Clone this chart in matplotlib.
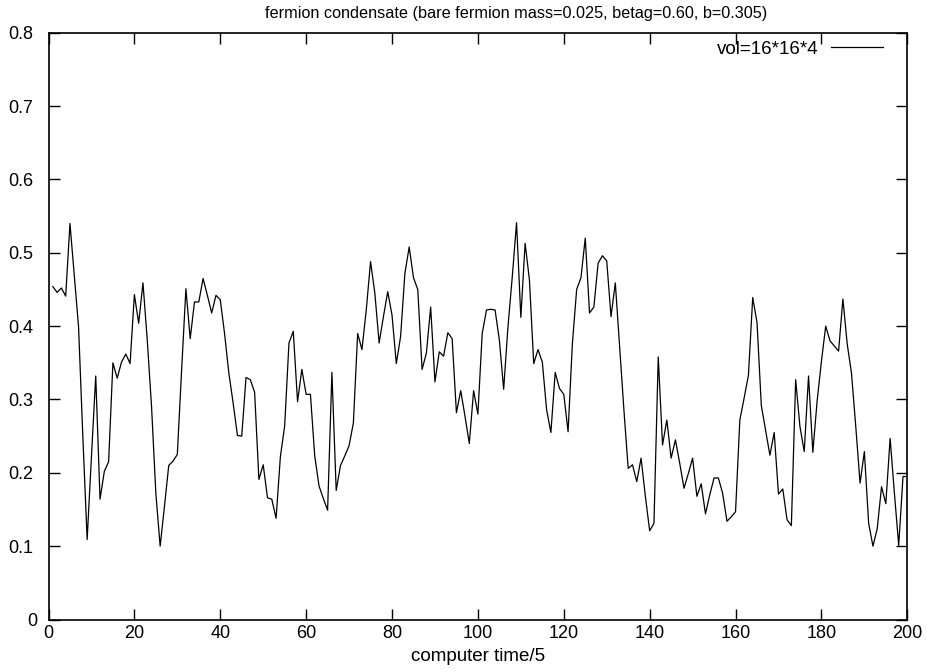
import matplotlib
matplotlib.use("Agg")
import matplotlib.pyplot as plt
import matplotlib.transforms as mtransforms

plt.rcParams['font.family'] = ['Liberation Sans', 'DejaVu Sans']

title = "fermion condensate (bare fermion mass=0.025, betag=0.60, b=0.305)"
xlabel = "computer time/5"
legend_label = "vol=16*16*4"
x_ticks = [0, 20, 40, 60, 80, 100, 120, 140, 160, 180, 200]
y_ticks = [0, 0.1, 0.2, 0.3, 0.4, 0.5, 0.6, 0.7, 0.8]
y_tick_labels = ["0", "0.1", "0.2", "0.3", "0.4", "0.5", "0.6", "0.7", "0.8"]

condensate = [
    0.454, 0.446, 0.452, 0.441, 0.540, 0.470, 0.399, 0.249, 0.109, 0.222,
    0.332, 0.164, 0.202, 0.215, 0.350, 0.329, 0.351, 0.362, 0.349, 0.443,
    0.404, 0.459, 0.381, 0.290, 0.172, 0.100, 0.154, 0.210, 0.216, 0.225,
    0.340, 0.451, 0.383, 0.433, 0.433, 0.465, 0.442, 0.418, 0.442, 0.436,
    0.390, 0.336, 0.295, 0.251, 0.250, 0.330, 0.327, 0.310, 0.191, 0.211,
    0.166, 0.164, 0.138, 0.222, 0.264, 0.377, 0.393, 0.297, 0.341, 0.307,
    0.307, 0.223, 0.182, 0.165, 0.149, 0.337, 0.176, 0.210, 0.223, 0.237,
    0.268, 0.390, 0.368, 0.422, 0.488, 0.445, 0.377, 0.413, 0.447, 0.415,
    0.349, 0.386, 0.472, 0.508, 0.466, 0.450, 0.341, 0.363, 0.426, 0.324,
    0.365, 0.359, 0.391, 0.383, 0.282, 0.312, 0.277, 0.240, 0.312, 0.280,
    0.390, 0.422, 0.423, 0.422, 0.381, 0.314, 0.399, 0.467, 0.541, 0.412,
    0.513, 0.463, 0.349, 0.368, 0.351, 0.286, 0.255, 0.337, 0.315, 0.307,
    0.256, 0.376, 0.450, 0.466, 0.520, 0.418, 0.426, 0.486, 0.496, 0.489,
    0.413, 0.459, 0.372, 0.286, 0.206, 0.211, 0.188, 0.220, 0.168, 0.121,
    0.131, 0.358, 0.238, 0.272, 0.220, 0.245, 0.213, 0.179, 0.199, 0.220,
    0.168, 0.185, 0.144, 0.170, 0.193, 0.193, 0.172, 0.134, 0.140, 0.147,
    0.272, 0.302, 0.333, 0.439, 0.405, 0.292, 0.258, 0.224, 0.255, 0.171,
    0.178, 0.136, 0.128, 0.327, 0.263, 0.229, 0.332, 0.228, 0.298, 0.352,
    0.400, 0.380, 0.373, 0.366, 0.437, 0.376, 0.336, 0.263, 0.186, 0.229,
    0.131, 0.100, 0.124, 0.181, 0.158, 0.247, 0.172, 0.101, 0.195, 0.195,
]
time = list(range(1, len(condensate) + 1))

W, H = 927, 672
fig = plt.figure(figsize=(W / 100, H / 100), dpi=100)
left, right, top, bottom = 48.5, 907.3, 32.8, 619.5
ax = fig.add_axes([left / W, 1 - bottom / H, (right - left) / W, (bottom - top) / H])

ax.plot(time, condensate, color="black", linewidth=0.9, label=legend_label)

ax.set_xlim(0, 200)
ax.set_ylim(0, 0.8)
ax.set_xticks(x_ticks)
ax.set_xticklabels([str(v) for v in x_ticks])
ax.set_yticks(y_ticks)
ax.set_yticklabels(y_tick_labels)
ax.tick_params(direction="in", length=8, width=1, top=True, right=True,
               labelsize=13, colors="black")
ax.tick_params(axis="x", pad=4)
ax.tick_params(axis="y", pad=(left - 37) * 72 / 100)
for s in ax.spines.values():
    s.set_linewidth(1.2)

# gnuplot-like label justification (estimated fixed char width)
for lab in ax.get_yticklabels():
    n = len(lab.get_text())
    lab.set_horizontalalignment("left")
    lab.set_transform(lab.get_transform() +
                      mtransforms.ScaledTranslation(-n * 9.7 / 100, 0, fig.dpi_scale_trans))

ax.set_title(title, fontsize=11.7, pad=10.5, x=0.545)
ax.set_xlabel(xlabel, fontsize=13.5, labelpad=4)

leg = ax.legend(loc="upper right", bbox_to_anchor=(0.981, 0.9995), frameon=False,
                fontsize=13.5, handlelength=2.8, handletextpad=0.65,
                markerfirst=False, borderaxespad=0)

fig.savefig("out.png", dpi=100)
